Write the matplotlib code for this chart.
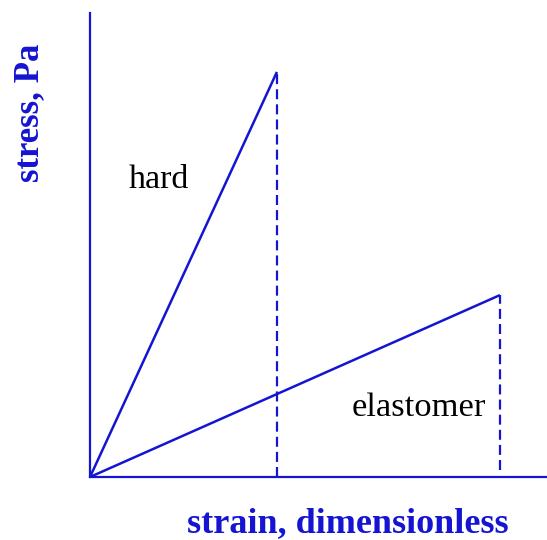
import numpy as np
import matplotlib
matplotlib.use('Agg')
import matplotlib.pyplot as plt

# Stress-strain sketch (arbitrary units)
materials = ['hard', 'elastomer']
break_strain = [4.09, 8.97]
break_stress = [8.73, 3.92]
dash_bottom = [0.0, 0.15]  # where the dashed drop line ends

blue = '#1414d2'
plt.rcParams['font.family'] = ['Liberation Serif', 'DejaVu Serif']

fig = plt.figure(figsize=(5.47, 5.40), dpi=100)
ax = fig.add_axes([90/547, 63/540, 457/547, 464/540])

for i in range(len(materials)):
    ax.plot([0, break_strain[i]], [0, break_stress[i]], color=blue, lw=1.8, solid_capstyle='butt')
    ax.plot([break_strain[i], break_strain[i]], [dash_bottom[i], break_stress[i]],
            color=blue, lw=1.6, linestyle=(0, (4.5, 2.3)))

ax.text(1.5, 6.4, 'hard', fontsize=24.5, ha='center', va='center', color='black')
ax.text(8.67, 1.5, 'elastomer', fontsize=24.8, ha='right', va='center', color='black')

ax.set_xlim(0, 10)
ax.set_ylim(0, 10)
ax.set_xticks([])
ax.set_yticks([])
for s in ['top', 'right']:
    ax.spines[s].set_visible(False)
for s in ['left', 'bottom']:
    ax.spines[s].set_color(blue)
    ax.spines[s].set_linewidth(1.6)

fig.text(348/547, 1 - 532/540, 'strain, dimensionless', fontsize=26, fontweight='bold',
         color=blue, ha='center', va='baseline')
fig.text(30/547, 1 - 113/540, 'stress, Pa', fontsize=25, fontweight='bold',
         color=blue, ha='center', va='center', rotation=90)

fig.savefig('out.png', dpi=100)
